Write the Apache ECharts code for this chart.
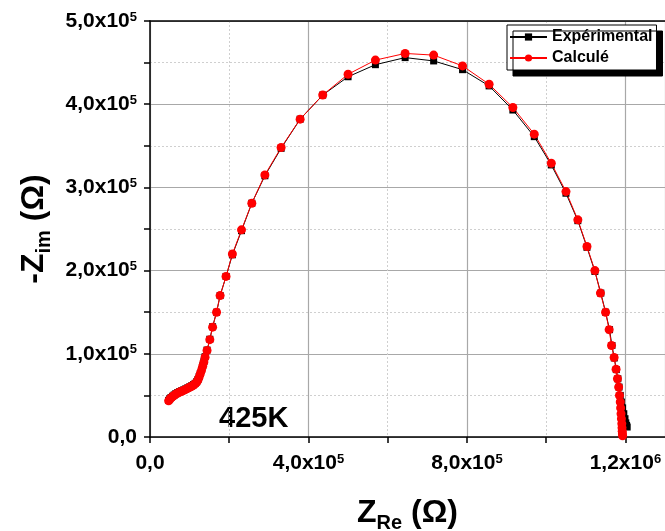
<!DOCTYPE html>
<html>
<head>
<meta charset="utf-8">
<script src="https://cdn.jsdelivr.net/npm/echarts@6/dist/echarts.min.js"></script>
<style>
html,body{margin:0;padding:0;background:#fff;}
#chart{width:665px;height:531px;}
</style>
</head>
<body>
<div id="chart"></div>
<script>
// Calculé (red) series, Z_Re and -Z_im in ohms
const calcX = [0.47e5,0.50e5,0.53e5,0.57e5,0.61e5,0.65e5,0.70e5,0.75e5,0.80e5,0.85e5,0.90e5,0.95e5,1.00e5,1.05e5,1.10e5,1.14e5,1.18e5,1.21e5,1.24e5,1.27e5,1.30e5,1.33e5,1.36e5,1.39e5,1.44e5,1.51e5,1.58e5,1.68e5,1.77e5,1.92e5,2.08e5,2.31e5,2.57e5,2.90e5,3.31e5,3.79e5,4.36e5,5.00e5,5.69e5,6.44e5,7.16e5,7.89e5,8.56e5,9.16e5,9.70e5,10.13e5,10.50e5,10.80e5,11.03e5,11.23e5,11.37e5,11.50e5,11.59e5,11.65e5,11.715e5,11.765e5,11.80e5,11.83e5,11.85e5,11.87e5,11.88e5,11.89e5,11.90e5,11.91e5,11.915e5,11.92e5,11.925e5,11.93e5];
const calcY = [0.435e5,0.455e5,0.47e5,0.485e5,0.50e5,0.515e5,0.528e5,0.54e5,0.55e5,0.56e5,0.572e5,0.585e5,0.597e5,0.61e5,0.625e5,0.64e5,0.66e5,0.685e5,0.72e5,0.76e5,0.80e5,0.85e5,0.90e5,0.96e5,1.04e5,1.17e5,1.32e5,1.50e5,1.70e5,1.93e5,2.20e5,2.49e5,2.81e5,3.15e5,3.48e5,3.82e5,4.11e5,4.36e5,4.53e5,4.61e5,4.59e5,4.46e5,4.24e5,3.96e5,3.64e5,3.29e5,2.95e5,2.61e5,2.29e5,2.00e5,1.73e5,1.50e5,1.29e5,1.10e5,0.955e5,0.815e5,0.70e5,0.60e5,0.50e5,0.42e5,0.35e5,0.28e5,0.22e5,0.16e5,0.11e5,0.07e5,0.04e5,0.015e5];
// Expérimental (black) series
const expX = [0.47e5,0.50e5,0.53e5,0.57e5,0.61e5,0.65e5,0.70e5,0.75e5,0.80e5,0.85e5,0.90e5,0.95e5,1.00e5,1.05e5,1.10e5,1.14e5,1.18e5,1.21e5,1.24e5,1.27e5,1.30e5,1.33e5,1.36e5,1.39e5,1.44e5,1.51e5,1.58e5,1.68e5,1.77e5,1.92e5,2.08e5,2.31e5,2.57e5,2.90e5,3.31e5,3.79e5,4.36e5,5.00e5,5.69e5,6.44e5,7.16e5,7.89e5,8.56e5,9.16e5,9.70e5,10.13e5,10.50e5,10.80e5,11.03e5,11.23e5,11.38e5,11.50e5,11.60e5,11.66e5,11.72e5,11.77e5,11.81e5,11.84e5,11.87e5,11.90e5,11.93e5,11.96e5,11.99e5,12.01e5,12.03e5,12.045e5];
const expY = [0.44e5,0.46e5,0.475e5,0.49e5,0.505e5,0.52e5,0.534e5,0.546e5,0.556e5,0.566e5,0.578e5,0.59e5,0.602e5,0.615e5,0.63e5,0.645e5,0.665e5,0.69e5,0.725e5,0.765e5,0.805e5,0.855e5,0.905e5,0.965e5,1.045e5,1.175e5,1.325e5,1.50e5,1.70e5,1.93e5,2.19e5,2.48e5,2.81e5,3.14e5,3.47e5,3.82e5,4.11e5,4.33e5,4.475e5,4.56e5,4.52e5,4.415e5,4.22e5,3.93e5,3.61e5,3.27e5,2.93e5,2.60e5,2.28e5,1.99e5,1.73e5,1.50e5,1.29e5,1.10e5,0.95e5,0.81e5,0.70e5,0.60e5,0.50e5,0.42e5,0.35e5,0.28e5,0.22e5,0.17e5,0.14e5,0.12e5];

const xTickValues = [0, 4e5, 8e5, 1.2e6];
const xTickLabels = ['0,0', '4,0x10{sup|5}', '8,0x10{sup|5}', '1,2x10{sup|6}'];
const yTickValues = [0, 1e5, 2e5, 3e5, 4e5, 5e5];
const yTickLabels = ['0,0', '1,0x10{sup|5}', '2,0x10{sup|5}', '3,0x10{sup|5}', '4,0x10{sup|5}', '5,0x10{sup|5}'];

function pick(values, labels) {
  return function (v) {
    for (let i = 0; i < values.length; i++) {
      if (Math.abs(values[i] - v) < 1) return labels[i];
    }
    return '';
  };
}

const FONT = '"Liberation Sans", Arial, sans-serif';
const supRich = { sup: { fontSize: 13, fontWeight: 'bold', fontFamily: FONT, color: '#000', verticalAlign: 'top', lineHeight: 15 } };
const nameRich = { sub: { fontSize: 20, fontWeight: 'bold', fontFamily: FONT, color: '#000', verticalAlign: 'bottom', lineHeight: 20 } };

const chart = echarts.init(document.getElementById('chart'));
chart.setOption({
  animation: false,
  backgroundColor: '#fff',
  grid: { left: 150, top: 21, right: 0, bottom: 94, containLabel: false, outerBoundsMode: 'none' },
  legend: {
    orient: 'vertical', left: 507, top: 25,
    itemWidth: 37, itemHeight: 9, itemGap: 5,
    padding: [4, 4, 4, 2],
    backgroundColor: '#fff', borderColor: '#000', borderWidth: 1,
    shadowColor: '#000', shadowBlur: 0, shadowOffsetX: 6, shadowOffsetY: 6,
    textStyle: { fontFamily: FONT, fontWeight: 'bold', fontSize: 16, color: '#000' },
    data: ['Expérimental', 'Calculé']
  },
  xAxis: [{
    type: 'value', min: 0, max: 1.3e6, interval: 2e5,
    name: 'Z{sub|Re} (Ω)', nameLocation: 'middle', nameGap: 56,
    nameTextStyle: { fontFamily: FONT, fontWeight: 'bold', fontSize: 32, color: '#000', lineHeight: 40, rich: nameRich },
    axisLine: { show: true, onZero: false, lineStyle: { color: '#000', width: 1.5 } },
    axisTick: { show: true, length: 6, lineStyle: { color: '#000', width: 1.5 } },
    axisLabel: { margin: 16, fontFamily: FONT, fontWeight: 'bold', fontSize: 21, color: '#000', formatter: pick(xTickValues, xTickLabels), rich: supRich, showMaxLabel: false },
    splitLine: { show: true, lineStyle: { color: '#cfcfcf', width: 1, type: [2, 2] } }
  }, {
    type: 'value', min: 0, max: 1.3e6, interval: 4e5, position: 'bottom',
    axisLine: { show: false }, axisTick: { show: false }, axisLabel: { show: false },
    splitLine: { show: true, lineStyle: { color: '#a8a8a8', width: 1.2, type: 'solid' } }
  }, {
    type: 'value', min: 0, max: 1.3e6, position: 'top',
    axisLine: { show: true, onZero: false, lineStyle: { color: '#000', width: 1.5 } },
    axisTick: { show: false }, axisLabel: { show: false }, splitLine: { show: false }
  }],
  yAxis: {
    type: 'value', min: 0, max: 5e5, interval: 1e5,
    name: '-Z{sub|im} (Ω)', nameLocation: 'middle', nameGap: 96, nameRotate: 90,
    nameTextStyle: { fontFamily: FONT, fontWeight: 'bold', fontSize: 32, color: '#000', lineHeight: 40, rich: nameRich },
    axisLine: { show: true, onZero: false, lineStyle: { color: '#000', width: 1.5 } },
    axisTick: { show: true, length: 6, lineStyle: { color: '#000', width: 1.5 } },
    minorTick: { show: true, splitNumber: 2, length: 6, lineStyle: { color: '#000', width: 1.5 } },
    axisLabel: { margin: 13, fontFamily: FONT, fontWeight: 'bold', fontSize: 21, color: '#000', formatter: pick(yTickValues, yTickLabels), rich: supRich },
    splitLine: { show: true, lineStyle: { color: '#a8a8a8', width: 1.2 } },
    minorSplitLine: { show: true, lineStyle: { color: '#cfcfcf', width: 1, type: [2, 2] } }
  },
  graphic: [{
    type: 'text', left: 219, top: 404,
    style: { text: '425K', fontFamily: FONT, fontWeight: 'bold', fontSize: 29, fill: '#000' }
  }],
  series: [{
    name: 'Expérimental', type: 'line', xAxisIndex: 0,
    data: expX.map((x, i) => [x, expY[i]]),
    symbol: 'rect', symbolSize: 7, showAllSymbol: true,
    lineStyle: { color: '#000', width: 1 }, itemStyle: { color: '#000' }
  }, {
    name: 'Calculé', type: 'line', xAxisIndex: 0,
    data: calcX.map((x, i) => [x, calcY[i]]),
    symbol: 'circle', symbolSize: 9, showAllSymbol: true,
    lineStyle: { color: '#ff0000', width: 1 }, itemStyle: { color: '#ff0000' }
  }]
});
</script>
</body>
</html>
